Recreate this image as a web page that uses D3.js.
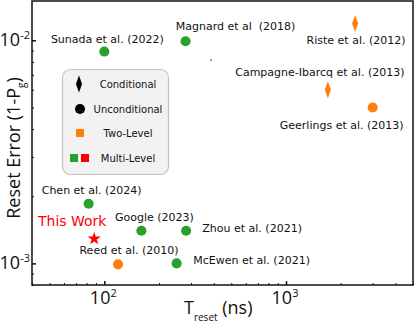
<!DOCTYPE html>
<html>
<head>
<meta charset="utf-8">
<script src="https://cdn.jsdelivr.net/npm/d3@7"></script>
<style>
  body { margin: 0; background: #fff; }
  svg { display: block; }
  text { white-space: pre; }
</style>
</head>
<body>
<script>
// reset experiments: reset time (ns) vs reset error (1-Pg)
var names = ['Sunada et al. (2022)', 'Magnard et al  (2018)', 'Riste et al. (2012)',
             'Campagne-Ibarcq et al. (2013)', 'Geerlings et al. (2013)', 'Chen et al. (2024)',
             'This Work', 'Google (2023)', 'Zhou et al. (2021)', 'Reed et al. (2010)',
             'McEwen et al. (2021)'];
var tReset = [100, 280, 2400, 1700, 3000, 82, 88, 160, 282, 119, 250];
var resetError = [0.0089, 0.0099, 0.0119, 0.006, 0.005, 0.00185, 0.00129, 0.0014, 0.0014, 0.00099, 0.001];
var protocol = ['Unconditional', 'Unconditional', 'Conditional', 'Conditional', 'Unconditional',
                'Unconditional', 'Star', 'Unconditional', 'Unconditional', 'Unconditional', 'Unconditional'];
var levels = ['Multi', 'Multi', 'Two', 'Two', 'Two', 'Multi', 'Ours', 'Multi', 'Multi', 'Two', 'Multi'];

var xDomain = [40, 5000];
var yDomain = [0.0008, 0.015];
var xMajor = [100, 1000];
var yMajor = [0.001, 0.01];
var xMinor = [40, 50, 60, 70, 80, 90, 200, 300, 400, 500, 600, 700, 800, 900, 2000, 3000, 4000, 5000];
var yMinor = [0.0008, 0.0009, 0.002, 0.003, 0.004, 0.005, 0.006, 0.007, 0.008, 0.009];
var legendLabels = ['Conditional', 'Unconditional', 'Two-Level', 'Multi-Level'];

// label offsets from the marker (px)
var labelOff = [[3, -9], [50, -11], [1, 21], [-8, -14], [-31, 22], [3, -10],
                [-22, -13], [13, -10], [66, 1], [11, -10], [75, 1]];

var W = 415, H = 326;
var m = {left: 32, top: 1, right: 2, bottom: 41};
var green = '#2ca02c', orange = '#ff7f0e', red = '#ff0000';
var colorOf = {Multi: green, Two: orange, Ours: red};

var svg = d3.select('body').append('svg')
  .attr('width', W).attr('height', H);

var x = d3.scaleLog().domain(xDomain).range([m.left, W - m.right]);
var y = d3.scaleLog().domain(yDomain).range([H - m.bottom, m.top]);

// spines
svg.append('rect')
  .attr('x', m.left).attr('y', m.top)
  .attr('width', W - m.right - m.left).attr('height', H - m.bottom - m.top)
  .attr('fill', 'none').attr('stroke', '#111').attr('stroke-width', 1.5);

// ticks pointing in
function ticksOnly(axis, vals, size, sw, tr) {
  var g = svg.append('g').attr('transform', tr)
    .call(axis.tickValues(vals).tickSize(-size).tickFormat(''));
  g.select('.domain').remove();
  g.selectAll('line').attr('stroke', '#111').attr('stroke-width', sw);
  return g;
}
ticksOnly(d3.axisBottom(x), xMinor, 2, 1, 'translate(0,' + (H - m.bottom) + ')');
ticksOnly(d3.axisBottom(x), xMajor, 4, 1.5, 'translate(0,' + (H - m.bottom) + ')');
ticksOnly(d3.axisLeft(y), yMinor, 2, 1, 'translate(' + m.left + ',0)');
ticksOnly(d3.axisLeft(y), yMajor, 4, 1.5, 'translate(' + m.left + ',0)');

// tick labels 10^n
var tickFont = '"Open Sans", sans-serif';
function powLabel(sel, v) {
  var e = Math.round(Math.log10(v));
  sel.append('tspan').text('10');
  sel.append('tspan').attr('dy', -7).attr('font-size', 11).text(e < 0 ? '-' + (-e) : e);
}
xMajor.forEach(function(v) {
  var t = svg.append('text')
    .attr('x', x(v) - 1).attr('y', H - m.bottom + 19)
    .attr('text-anchor', 'middle')
    .attr('font-family', tickFont).attr('font-size', 18).attr('fill', '#111');
  powLabel(t, v);
});
yMajor.forEach(function(v) {
  var t = svg.append('text')
    .attr('x', m.left - 2).attr('y', y(v) + 6)
    .attr('text-anchor', 'end')
    .attr('font-family', tickFont).attr('font-size', 18).attr('fill', '#111');
  powLabel(t, v);
});

// axis titles
var xt = svg.append('text')
  .attr('x', 184).attr('y', 314)
  .attr('font-family', tickFont).attr('font-size', 18).attr('fill', '#111');
xt.append('tspan').text('T');
xt.append('tspan').attr('dy', 7).attr('font-size', 10).text('reset');
xt.append('tspan').attr('dy', -7).text(' (ns)');

var yt = svg.append('text')
  .attr('transform', 'translate(20,148) rotate(-90)')
  .attr('text-anchor', 'middle')
  .attr('font-family', tickFont).attr('font-size', 18).attr('fill', '#111');
yt.append('tspan').text('Reset Error (1-P');
yt.append('tspan').attr('dy', 5).attr('font-size', 10).text('g');
yt.append('tspan').attr('dy', -5).text(')');

// markers
var symFor = {
  Conditional: d3.symbol().type(d3.symbolDiamond).size(58),
  Unconditional: d3.symbol().type(d3.symbolCircle).size(80),
  Star: d3.symbol().type(d3.symbolStar).size(55)
};
var pts = d3.range(names.length);

svg.selectAll('path.pt').data(pts).enter().append('path')
  .attr('class', 'pt')
  .attr('d', function(i) { return symFor[protocol[i]](); })
  .attr('transform', function(i) {
    var s = protocol[i] === 'Conditional' ? 'scale(0.75,1.2)' : '';
    return 'translate(' + x(tReset[i]) + ',' + y(resetError[i]) + ')' + s;
  })
  .attr('fill', function(i) { return colorOf[levels[i]]; });

svg.selectAll('text.lab').data(pts).enter().append('text')
  .attr('class', 'lab')
  .attr('x', function(i) { return x(tReset[i]) + labelOff[i][0]; })
  .attr('y', function(i) { return y(resetError[i]) + labelOff[i][1]; })
  .attr('text-anchor', 'middle')
  .attr('font-family', '"DejaVu Sans", sans-serif')
  .attr('font-size', function(i) { return levels[i] === 'Ours' ? 14 : 11; })
  .attr('fill', function(i) { return levels[i] === 'Ours' ? red : '#111'; })
  .text(function(i) { return names[i]; });

// stray dot in the original
svg.append('rect').attr('x', 210.5).attr('y', 59.5).attr('width', 1.3).attr('height', 1.3).attr('fill', '#222');

// legend
var lg = svg.append('g');
lg.append('rect')
  .attr('x', 62.5).attr('y', 69.5).attr('width', 106).attr('height', 105).attr('rx', 8)
  .attr('fill', '#f2f2f2').attr('stroke', '#c4c4c4').attr('stroke-width', 1.2);
var rowY = [84, 109, 133, 158];
lg.append('path').attr('d', symFor.Conditional())
  .attr('transform', 'translate(79,' + rowY[0] + ') scale(0.75,1.2)').attr('fill', '#000');
lg.append('path').attr('d', symFor.Unconditional())
  .attr('transform', 'translate(80,' + rowY[1] + ')').attr('fill', '#000');
lg.append('rect').attr('x', 76).attr('y', rowY[2] - 4).attr('width', 8).attr('height', 8).attr('fill', orange);
lg.append('rect').attr('x', 70).attr('y', rowY[3] - 4).attr('width', 8).attr('height', 8).attr('fill', green);
lg.append('rect').attr('x', 81).attr('y', rowY[3] - 4).attr('width', 8).attr('height', 8).attr('fill', red);
lg.selectAll('text').data(legendLabels).enter().append('text')
  .attr('x', 128).attr('y', function(d, i) { return rowY[i] + 4; })
  .attr('text-anchor', 'middle')
  .attr('font-family', '"DejaVu Sans", sans-serif').attr('font-size', 10).attr('fill', '#111')
  .text(function(d) { return d; });
</script>
</body>
</html>
